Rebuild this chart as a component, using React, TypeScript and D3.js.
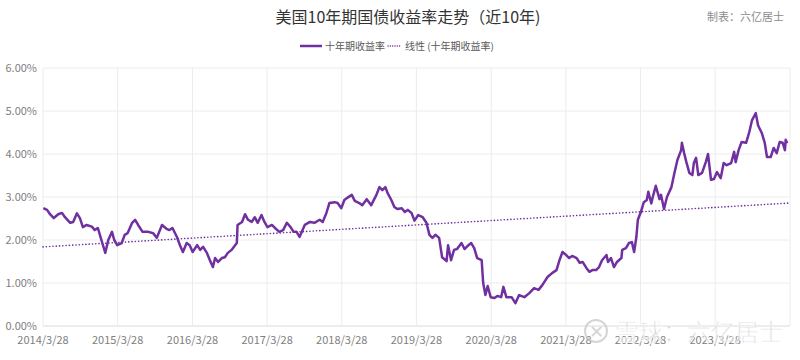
import React, { useEffect, useRef } from 'react';
import * as d3 from 'd3';

// decimal year, yield (%)
const years = [
  2014.24, 2014.29, 2014.33, 2014.38, 2014.44, 2014.49, 2014.53, 2014.60, 2014.64, 2014.69,
  2014.73, 2014.77, 2014.82, 2014.89, 2014.93, 2014.97, 2015.03, 2015.07, 2015.11, 2015.16,
  2015.19, 2015.23, 2015.29, 2015.33, 2015.37, 2015.43, 2015.47, 2015.51, 2015.57, 2015.64,
  2015.71, 2015.76, 2015.83, 2015.89, 2015.93, 2015.97, 2016.03, 2016.07, 2016.11, 2016.16,
  2016.20, 2016.24, 2016.30, 2016.34, 2016.38, 2016.43, 2016.47, 2016.51, 2016.54, 2016.58,
  2016.63, 2016.67, 2016.71, 2016.76, 2016.79, 2016.83, 2016.84, 2016.90, 2016.94, 2016.98,
  2017.03, 2017.07, 2017.11, 2017.16, 2017.20, 2017.24, 2017.30, 2017.34, 2017.40, 2017.45,
  2017.50, 2017.55, 2017.59, 2017.63, 2017.67, 2017.74, 2017.81, 2017.87, 2017.94, 2017.98,
  2018.03, 2018.07, 2018.14, 2018.18, 2018.23, 2018.27, 2018.31, 2018.37, 2018.41, 2018.47,
  2018.51, 2018.57, 2018.63, 2018.70, 2018.74, 2018.78, 2018.82, 2018.85, 2018.90, 2018.94,
  2018.98, 2019.04, 2019.08, 2019.12, 2019.17, 2019.21, 2019.26, 2019.32, 2019.37, 2019.41,
  2019.45, 2019.49, 2019.54, 2019.58, 2019.64, 2019.66, 2019.70, 2019.74, 2019.78, 2019.84,
  2019.88, 2019.92, 2019.97, 2020.01, 2020.05, 2020.11, 2020.13, 2020.16, 2020.19, 2020.23,
  2020.28, 2020.32, 2020.37, 2020.40, 2020.44, 2020.51, 2020.56, 2020.61, 2020.68, 2020.75,
  2020.81, 2020.87, 2020.92, 2020.99, 2021.05, 2021.11, 2021.15, 2021.19, 2021.24, 2021.28,
  2021.32, 2021.38, 2021.42, 2021.46, 2021.51, 2021.55, 2021.59, 2021.64, 2021.68, 2021.72,
  2021.78, 2021.80, 2021.84, 2021.88, 2021.92, 2021.98, 2021.99, 2022.04, 2022.08, 2022.12,
  2022.15, 2022.18, 2022.20, 2022.24, 2022.28, 2022.32, 2022.34, 2022.38, 2022.40, 2022.44,
  2022.49, 2022.51, 2022.55, 2022.59, 2022.65, 2022.69, 2022.73, 2022.78, 2022.79, 2022.82,
  2022.85, 2022.89, 2022.93, 2022.95, 2022.98, 2023.01, 2023.06, 2023.11, 2023.14, 2023.18,
  2023.22, 2023.26, 2023.31, 2023.35, 2023.39, 2023.45, 2023.49, 2023.51, 2023.55, 2023.59,
  2023.65, 2023.69, 2023.73, 2023.78, 2023.81, 2023.86, 2023.90, 2023.93, 2023.98, 2024.02,
  2024.06, 2024.10, 2024.14, 2024.17, 2024.18, 2024.20,
];

const yields = [
  2.74, 2.70, 2.60, 2.51, 2.60, 2.63, 2.53, 2.40, 2.42, 2.62,
  2.51, 2.30, 2.35, 2.31, 2.23, 2.28, 1.93, 1.70, 2.00, 2.19,
  2.00, 1.88, 1.93, 2.12, 2.16, 2.40, 2.47, 2.35, 2.19, 2.19,
  2.16, 2.05, 2.35, 2.26, 2.23, 2.28, 2.07, 1.88, 1.72, 1.93,
  1.88, 1.72, 1.88, 1.77, 1.84, 1.70, 1.53, 1.37, 1.58, 1.49,
  1.58, 1.60, 1.70, 1.77, 1.84, 1.93, 2.35, 2.42, 2.60, 2.47,
  2.42, 2.53, 2.40, 2.58, 2.42, 2.30, 2.35, 2.28, 2.19, 2.23,
  2.40, 2.30, 2.19, 2.19, 2.07, 2.35, 2.42, 2.40, 2.47, 2.42,
  2.63, 2.86, 2.88, 2.86, 2.74, 2.93, 2.98, 3.05, 2.91, 2.86,
  2.81, 2.95, 2.81, 3.05, 3.23, 3.16, 3.23, 3.09, 2.93, 2.77,
  2.72, 2.74, 2.65, 2.70, 2.63, 2.45, 2.58, 2.53, 2.40, 2.12,
  2.05, 2.12, 2.05, 1.60, 1.51, 1.88, 1.53, 1.77, 1.79, 1.93,
  1.79, 1.86, 1.93, 1.81, 1.58, 1.53, 1.00, 0.72, 0.93, 0.67,
  0.65, 0.70, 0.67, 0.91, 0.67, 0.67, 0.53, 0.72, 0.67, 0.77,
  0.88, 0.84, 0.95, 1.14, 1.23, 1.30, 1.53, 1.72, 1.65, 1.58,
  1.63, 1.58, 1.47, 1.49, 1.35, 1.26, 1.30, 1.30, 1.37, 1.53,
  1.65, 1.49, 1.58, 1.37, 1.49, 1.58, 1.77, 1.81, 1.93, 1.95,
  1.72, 2.07, 2.47, 2.65, 2.88, 2.93, 3.12, 2.85, 3.00, 3.26,
  2.95, 3.05, 2.72, 3.00, 3.23, 3.56, 3.86, 4.09, 4.26, 4.02,
  3.81, 3.56, 3.51, 3.79, 3.91, 3.51, 3.56, 3.81, 4.00, 3.40,
  3.42, 3.58, 3.44, 3.79, 3.74, 3.79, 4.05, 3.81, 4.09, 4.28,
  4.26, 4.49, 4.79, 4.95, 4.67, 4.49, 4.26, 3.93, 3.93, 4.14,
  4.02, 4.28, 4.26, 4.09, 4.33, 4.25,
];

// linear trend (start / end of the 10-year window)
const trendYears = [2014.236, 2024.236];
const trendValues = [1.84, 2.86];

const yTicks = [0, 1, 2, 3, 4, 5, 6];
const tickYears = [2014, 2015, 2016, 2017, 2018, 2019, 2020, 2021, 2022, 2023, 2024];
const tickLabels = ['2014/3/28', '2015/3/28', '2016/3/28', '2017/3/28', '2018/3/28', '2019/3/28', '2020/3/28', '2021/3/28', '2022/3/28', '2023/3/28', ''];

const title = '美国10年期国债收益率走势（近10年)';
const credit = '制表：六亿居士';
const seriesName = '十年期收益率';
const trendName = '线性 (十年期收益率)';
const watermark = '雪球：六亿居士';

const PURPLE = '#7030A0';
const FONT = '"Microsoft YaHei", "Noto Sans CJK SC", "Noto Sans", sans-serif';

const toDate = (v: number) => {
  const yr = Math.floor(v);
  const s = +new Date(yr, 0, 1);
  const e = +new Date(yr + 1, 0, 1);
  return new Date(s + (v - yr) * (e - s));
};

const App = () => {
  const ref = useRef<SVGSVGElement>(null);

  useEffect(() => {
    document.body.style.margin = '0';
    const W = 800, H = 360;
    const margin = { top: 68, right: 10, bottom: 34, left: 43 };

    const svg = d3.select(ref.current)
      .attr('width', W)
      .attr('height', H)
      .style('background', '#fff')
      .style('font-family', FONT);
    svg.selectAll('*').remove();

    const x = d3.scaleTime()
      .domain([new Date(2014, 2, 28), new Date(2024, 2, 28)])
      .range([margin.left, W - margin.right]);
    const y = d3.scaleLinear()
      .domain([0, 6])
      .range([H - margin.bottom, margin.top]);

    const tickDates = tickYears.map(yr => new Date(yr, 2, 28));

    // gridlines
    svg.append('g')
      .selectAll('line')
      .data(yTicks)
      .enter().append('line')
      .attr('x1', margin.left).attr('x2', W - margin.right)
      .attr('y1', d => y(d)).attr('y2', d => y(d))
      .attr('stroke', d => d === 0 ? '#d9d9d9' : '#ececec')
      .attr('stroke-width', 1);

    svg.append('g')
      .selectAll('line')
      .data(tickDates)
      .enter().append('line')
      .attr('x1', d => x(d)).attr('x2', d => x(d))
      .attr('y1', y(6)).attr('y2', y(0))
      .attr('stroke', '#ececec')
      .attr('stroke-width', 1);

    // y labels
    svg.append('g')
      .selectAll('text')
      .data(yTicks)
      .enter().append('text')
      .attr('x', margin.left - 6)
      .attr('y', d => y(d) + 4)
      .attr('text-anchor', 'end')
      .attr('font-size', 11)
      .attr('fill', '#808080')
      .text(d => d3.format('.2f')(d) + '%');

    // x labels
    svg.append('g')
      .selectAll('text')
      .data(tickDates)
      .enter().append('text')
      .attr('x', d => x(d))
      .attr('y', H - margin.bottom + 18)
      .attr('text-anchor', 'middle')
      .attr('font-size', 11)
      .attr('fill', '#808080')
      .text((d, i) => tickLabels[i]);

    // trend
    const trend = trendYears.map((t, i) => ({ date: toDate(t), value: trendValues[i] }));
    svg.append('path')
      .datum(trend)
      .attr('d', d3.line<any>().x(d => x(d.date)).y(d => y(d.value)))
      .attr('fill', 'none')
      .attr('stroke', PURPLE)
      .attr('stroke-width', 1.6)
      .attr('stroke-linecap', 'round')
      .attr('stroke-dasharray', '0.1 3.2');

    // series
    const data = years.map((t, i) => ({ date: toDate(t), value: yields[i] }));
    svg.append('path')
      .datum(data)
      .attr('d', d3.line<any>().x(d => x(d.date)).y(d => y(d.value)))
      .attr('fill', 'none')
      .attr('stroke', PURPLE)
      .attr('stroke-width', 2.5)
      .attr('stroke-linejoin', 'round');

    // title
    svg.append('text')
      .attr('x', 408).attr('y', 23)
      .attr('text-anchor', 'middle')
      .attr('font-size', 16)
      .attr('fill', '#333')
      .text(title);

    svg.append('text')
      .attr('x', 784).attr('y', 21)
      .attr('text-anchor', 'end')
      .attr('font-size', 11)
      .attr('fill', '#8c8c8c')
      .text(credit);

    // legend
    const lg = svg.append('g').attr('transform', 'translate(300,46)');
    lg.append('line')
      .attr('x1', 0).attr('x2', 22).attr('y1', 0).attr('y2', 0)
      .attr('stroke', PURPLE).attr('stroke-width', 2.5);
    lg.append('text')
      .attr('x', 25).attr('y', 4)
      .attr('font-size', 10).attr('fill', '#595959')
      .text(seriesName);
    lg.append('line')
      .attr('x1', 88).attr('x2', 101).attr('y1', 0).attr('y2', 0)
      .attr('stroke', PURPLE).attr('stroke-width', 1.4)
      .attr('stroke-linecap', 'round')
      .attr('stroke-dasharray', '0.1 2.2');
    lg.append('text')
      .attr('x', 105).attr('y', 4)
      .attr('font-size', 10).attr('fill', '#595959')
      .text(trendName);

    // watermark
    const wm = svg.append('g').attr('opacity', 0.75);
    wm.append('circle')
      .attr('cx', 596).attr('cy', 331).attr('r', 11)
      .attr('fill', 'none').attr('stroke', '#c8c8c8').attr('stroke-width', 2);
    wm.append('text')
      .attr('x', 596).attr('y', 338)
      .attr('text-anchor', 'middle')
      .attr('font-size', 18).attr('fill', '#c8c8c8')
      .text('✕');
    wm.append('text')
      .attr('x', 615).attr('y', 341)
      .attr('font-size', 24)
      .attr('fill', '#d0d0d0')
      .attr('stroke', '#fff').attr('stroke-width', 0.8)
      .text(watermark);
  }, []);

  return <svg ref={ref}></svg>;
};

export default App;
